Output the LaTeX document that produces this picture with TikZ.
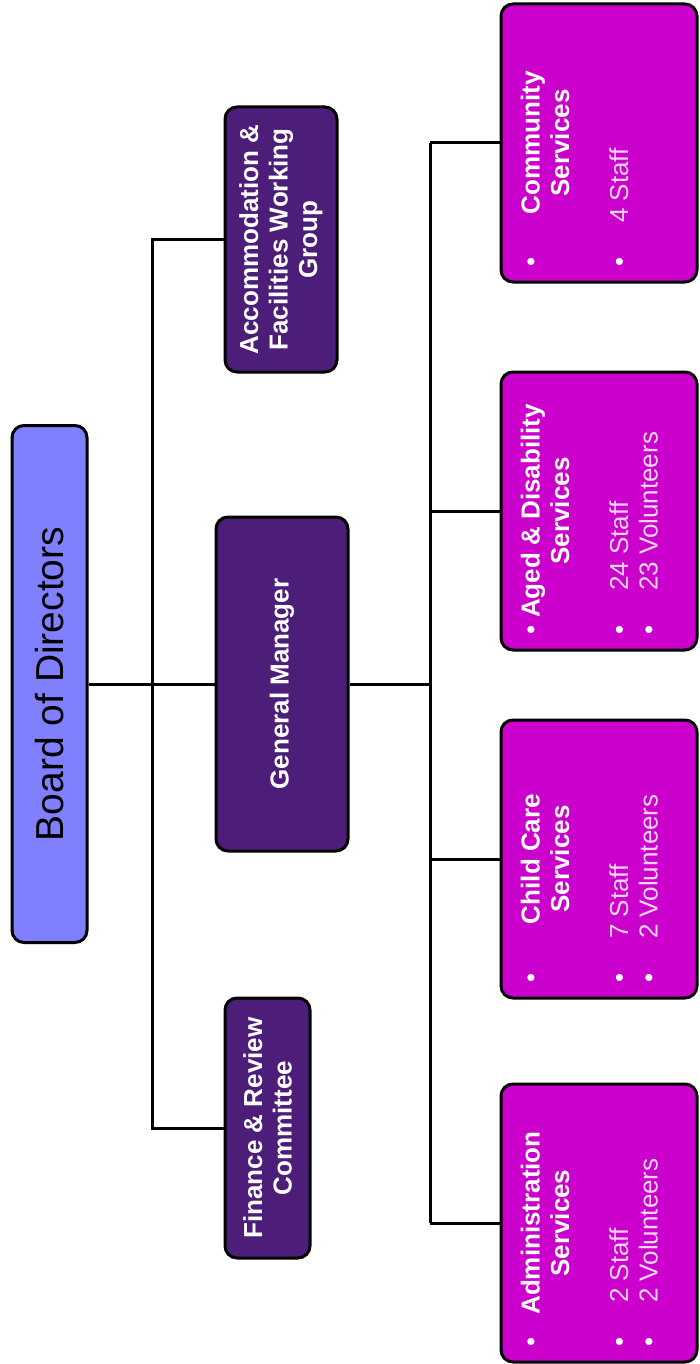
\documentclass[tikz,border=0pt]{standalone}
\usepackage{fontspec}
\setmainfont{Liberation Sans}
\usetikzlibrary{calc,positioning}

\definecolor{boardblue}{RGB}{128,128,255}
\definecolor{darkpurple}{RGB}{76,30,122}
\definecolor{svcpink}{RGB}{204,0,204}
\definecolor{itempink}{RGB}{246,214,246}

\newcommand\svchead[1]{\makebox[276pt]{\rlap{\hspace{15pt}\textbullet}\hfill\textbf{#1}\hfill}}
\newcommand\svcitem[1]{\makebox[276pt][l]{\hspace{15pt}\textcolor{white}{\textbullet}\hspace{34pt}\textcolor{itempink}{#1}}}

\tikzset{
	box/.style={draw=black,line width=3pt,rounded corners=12pt,rotate=90,inner sep=0pt},
	panel/.style={fill=darkpurple,text=white,align=center,font=\fontsize{26}{29.5}\selectfont\bfseries},
	link/.style={line width=3pt},
}

\begin{document}
\begin{tikzpicture}[x=1pt,y=-1pt]
	\useasboundingbox (0,0) rectangle (700,1364);
	\path
	(49.5,684) coordinate (B)
	(282,684) coordinate (G)
	(152,684) coordinate (L)
	(430,684) coordinate (R)
	;
	\node[box,fill=boardblue,text=black,minimum width=517,minimum height=75,font=\fontsize{39}{44}\selectfont] (board) at (B) {Board of Directors};
	\node[box,panel,minimum width=334,minimum height=132] (gm) at (G) {General Manager};
	\node[box,panel,minimum width=265,minimum height=112] (accom) at (281,239.5) {Accommodation \&\\Facilities Working\\Group};
	\node[box,panel,minimum width=260,minimum height=85] (fin) at (267.5,1128) {Finance \& Review\\Committee};
	\foreach \nm/\yy/\hd/\its in {comm/143/Community/{\svcitem{4 Staff}},
		aged/511/{Aged \& Disability}/{\svcitem{24 Staff}\\\svcitem{23 Volunteers}},
		child/859/{Child Care}/{\svcitem{7 Staff}\\\svcitem{2 Volunteers}},
		admin/1223/Administration/{\svcitem{2 Staff}\\\svcitem{2 Volunteers}}} {
		\node[box,fill=svcpink,minimum width=278,minimum height=196] (\nm) at (599,\yy) {};
		\node[rotate=90,anchor=north,inner sep=0pt,align=left,text=white,font=\fontsize{26}{29.5}\selectfont] (\nm-t) at ($(\nm.north)+(21,0)$)
		{\svchead{\hd}\\\makebox[276pt]{\textbf{Services}}\\[29.5pt]\its};
		\draw[link] (R |- \nm.north) -- (\nm.north);
	}
	\draw[link] (board.south) -- (gm.north) (gm.south) -- (R);
	\draw[link] (accom.north) -| (L) |- (fin.north);
	\draw[link] (R |- comm.north) -- (R |- admin.north);
\end{tikzpicture}
\end{document}
